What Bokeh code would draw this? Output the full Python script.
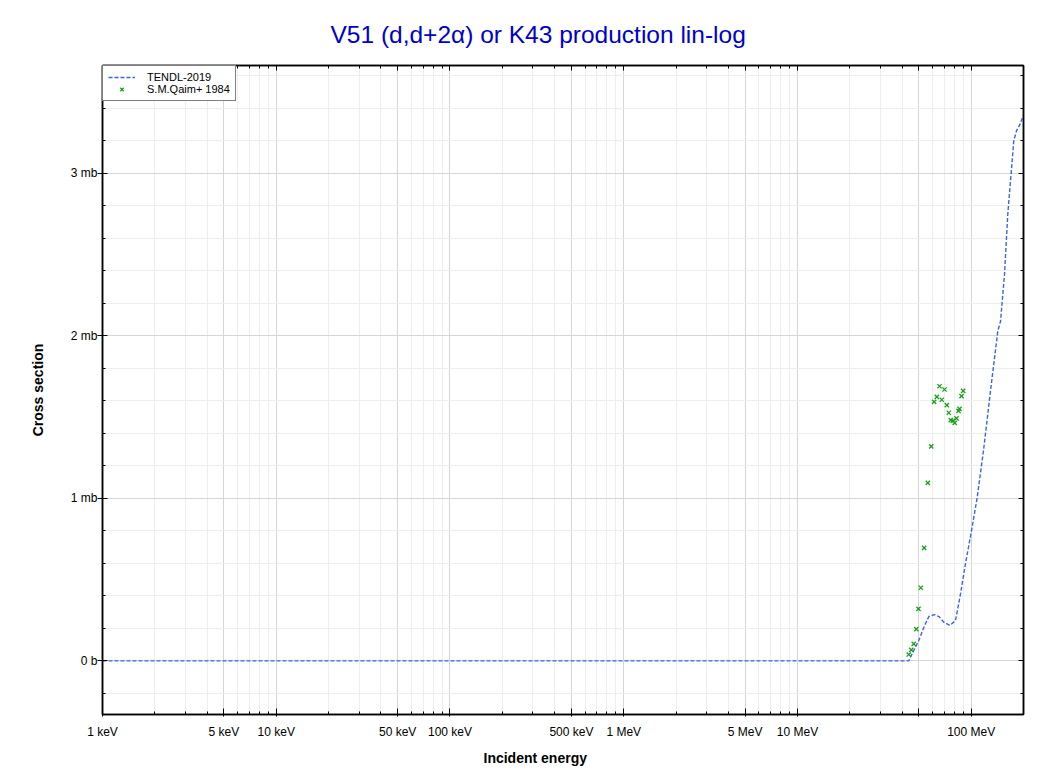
from bokeh.plotting import figure
from bokeh.models import (FixedTicker, LogAxis, LinearAxis, Legend, LegendItem,
                          CustomJSTickFormatter, CustomLabelingPolicy, Range1d, Title)
from bokeh.embed import file_html
from bokeh.resources import INLINE

TITLE = "V51 (d,d+2α) or K43 production lin-log"
X_LABEL = "Incident energy"
Y_LABEL = "Cross section"

# TENDL-2019 evaluated curve (energy in MeV, cross section in mb)
tendl_energy_mev = [0.001, 43.7, 46.7, 49.9, 53.4, 57.0, 61.5, 65.2, 69.6, 75.3,
                    81.2, 86.8, 92.7, 100.4, 108.3, 118.2, 129.1, 142.3, 147.5,
                    155.5, 162.4, 169.8, 175.8, 182.0, 190.5, 200.0]
tendl_xs_mb = [0.0, 0.0, 0.064, 0.125, 0.207, 0.273, 0.285, 0.273, 0.238, 0.218,
               0.248, 0.412, 0.599, 0.80, 1.006, 1.31, 1.66, 2.03, 2.09,
               2.38, 2.75, 3.0, 3.20, 3.26, 3.30, 3.36]

# S.M.Qaim+ 1984 experimental points
qaim_energy_mev = [43.7, 45.2, 46.7, 48.3, 49.7, 51.3, 53.6, 56.3, 58.9, 61.2,
                   63.4, 65.7, 67.7, 70.2, 72.4, 74.3, 76.3, 78.4, 80.4, 82.3,
                   84.5, 85.6, 88.0, 89.9]
qaim_xs_mb = [0.039, 0.068, 0.105, 0.195, 0.32, 0.45, 0.695, 1.095, 1.32, 1.594,
              1.625, 1.69, 1.607, 1.67, 1.574, 1.527, 1.482, 1.478, 1.465, 1.492,
              1.539, 1.551, 1.629, 1.662]

x_tick_ev = [1e3, 5e3, 1e4, 5e4, 1e5, 5e5, 1e6, 5e6, 1e7, 5e7, 1e8]
x_tick_labels = ["1 keV", "5 keV", "10 keV", "50 keV", "100 keV", "500 keV",
                 "1 MeV", "5 MeV", "10 MeV", "", "100 MeV"]
y_tick_mb = [0, 1, 2, 3]
y_tick_labels = ["0 b", "1 mb", "2 mb", "3 mb"]

FONT = "Liberation Sans"

x_minor = []
for d in [1e3, 1e4, 1e5, 1e6, 1e7, 1e8]:
    for m in [2, 3, 4, 6, 7, 8, 9]:
        v = d * m
        if v < 2e8:
            x_minor.append(v)
y_minor = [round(-0.2 + 0.2 * i, 6) for i in range(0, 20)]

p = figure(width=1046, height=774, x_axis_type="log",
           x_range=Range1d(1e3, 2e8), y_range=Range1d(-0.33, 3.664),
           output_backend="svg", toolbar_location=None,
           min_border_left=102, min_border_right=23, min_border_top=64,
           min_border_bottom=60, background_fill_color="white",
           border_fill_color="white")

p.title.text = TITLE
p.title.align = "left"
p.title.offset = 228
p.title.text_font = FONT
p.title.text_font_size = "24.5px"
p.title.text_font_style = "normal"
p.title.text_color = "#0000cc"
p.title.standoff = 36

p.outline_line_color = "black"
p.outline_line_width = 1.5

xt = FixedTicker(ticks=x_tick_ev, minor_ticks=x_minor)
yt = FixedTicker(ticks=y_tick_mb, minor_ticks=y_minor)

xfmt = CustomJSTickFormatter(args=dict(vals=x_tick_ev, labs=x_tick_labels), code="""
    for (let i = 0; i < vals.length; i++) {
        if (Math.abs(Math.log10(vals[i]) - Math.log10(tick)) < 1e-6) return labs[i];
    }
    return "";
""")
yfmt = CustomJSTickFormatter(args=dict(vals=y_tick_mb, labs=y_tick_labels), code="""
    for (let i = 0; i < vals.length; i++) {
        if (Math.abs(vals[i] - tick) < 1e-6) return labs[i];
    }
    return "";
""")
skip_empty = CustomLabelingPolicy(args=dict(labs=x_tick_labels), code="""
    for (const i of indices) {
        if (labs[i] === "") indices.unset(i)
    }
    return indices
""")
hide_all = CustomLabelingPolicy(code="""
    for (const i of indices) indices.unset(i)
    return indices
""")

xa = p.xaxis[0]
xa.ticker = xt
xa.formatter = xfmt
xa.major_label_policy = skip_empty
ya = p.yaxis[0]
ya.ticker = yt
ya.formatter = yfmt
ya.axis_label = Y_LABEL

for ax in (xa, ya):
    ax.axis_line_color = "black"
    ax.axis_line_width = 1.5
    ax.major_tick_line_color = "black"
    ax.minor_tick_line_color = "black"
    ax.major_label_text_font = FONT
    ax.major_label_text_font_size = "12px"
    ax.major_label_text_color = "black"
    ax.axis_label_text_font = FONT
    ax.axis_label_text_font_size = "14px"
    ax.axis_label_text_font_style = "bold"
    ax.axis_label_text_color = "black"
    ax.minor_tick_in = 3
    ax.minor_tick_out = 0

xa.major_tick_in = 6
xa.major_tick_out = 2
xa.major_label_standoff = 8
ya.major_tick_in = 5
ya.major_tick_out = 5
ya.major_label_standoff = 0
ya.axis_label_standoff = 22

top = LogAxis(ticker=xt, major_label_text_font_size="0px", axis_line_color="black",
              axis_line_width=1.5, major_tick_in=5, major_tick_out=0,
              minor_tick_in=3, minor_tick_out=0, major_label_policy=hide_all)
right = LinearAxis(ticker=yt, major_label_text_font_size="0px", axis_line_color="black",
                   axis_line_width=1.5, major_tick_in=5, major_tick_out=0,
                   minor_tick_in=3, minor_tick_out=0, major_label_policy=hide_all)
p.add_layout(top, "above")
p.add_layout(right, "right")

xlab = Title(text=X_LABEL, align="left", offset=381, text_font=FONT,
             text_font_size="14px", text_font_style="bold", text_color="black",
             standoff=14, vertical_align="middle")
p.add_layout(xlab, "below")

p.xgrid.ticker = xt
p.ygrid.ticker = yt
for g in (p.xgrid, p.ygrid):
    g.grid_line_color = "#d6d6d6"
    g.grid_line_width = 1
    g.minor_grid_line_color = "#eeeeee"
    g.minor_grid_line_width = 1

line_r = p.line([e * 1e6 for e in tendl_energy_mev], tendl_xs_mb,
                line_color="#3d62e6", line_width=1.4, line_dash="4 2")
sc_r = p.scatter([e * 1e6 for e in qaim_energy_mev], qaim_xs_mb, marker="x",
                 size=6, line_color="#18a018", line_width=1.3)

legend = Legend(items=[LegendItem(label="TENDL-2019", renderers=[line_r]),
                       LegendItem(label="S.M.Qaim+ 1984", renderers=[sc_r])],
                location="top_left", margin=0, padding=5, spacing=0,
                glyph_width=27, glyph_height=12, label_height=12, label_width=80,
                label_standoff=12, label_text_font=FONT,
                label_text_font_size="11px", label_text_color="black",
                border_line_color="black", border_line_width=1,
                background_fill_color="white", background_fill_alpha=1)
p.add_layout(legend)

open("out.html", "w").write(file_html(p, INLINE))
